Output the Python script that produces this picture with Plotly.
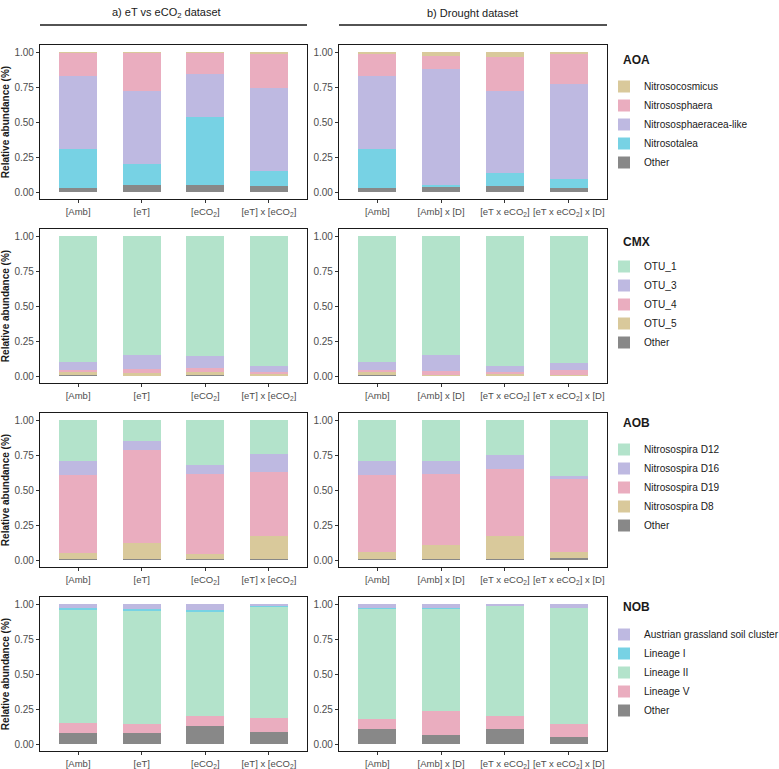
import plotly.graph_objects as go

W, H = 779, 769

# ---------------- data ----------------
cats_a = ["[Amb]", "[eT]", "[eCO<sub>2</sub>]", "[eT] x [eCO<sub>2</sub>]"]
cats_b = ["[Amb]", "[Amb] x [D]", "[eT x eCO<sub>2</sub>]", "[eT x eCO<sub>2</sub>] x [D]"]

aoa_taxa = ["Other", "Nitrosotalea", "Nitrososphaeracea-like", "Nitrososphaera", "Nitrosocosmicus"]
aoa_a = {
    "Other": [0.029, 0.048, 0.048, 0.040],
    "Nitrosotalea": [0.281, 0.152, 0.490, 0.112],
    "Nitrososphaeracea-like": [0.520, 0.524, 0.305, 0.588],
    "Nitrososphaera": [0.163, 0.269, 0.150, 0.243],
    "Nitrosocosmicus": [0.007, 0.007, 0.007, 0.017],
}
aoa_b = {
    "Other": [0.026, 0.033, 0.045, 0.031],
    "Nitrosotalea": [0.281, 0.017, 0.091, 0.062],
    "Nitrososphaeracea-like": [0.519, 0.826, 0.588, 0.676],
    "Nitrososphaera": [0.162, 0.098, 0.240, 0.219],
    "Nitrosocosmicus": [0.012, 0.026, 0.036, 0.012],
}

cmx_taxa = ["Other", "OTU_5", "OTU_4", "OTU_3", "OTU_1"]
cmx_a = {
    "Other": [0.008, 0.007, 0.006, 0.004],
    "OTU_5": [0.022, 0.012, 0.023, 0.013],
    "OTU_4": [0.015, 0.029, 0.026, 0.014],
    "OTU_3": [0.057, 0.102, 0.090, 0.043],
    "OTU_1": [0.898, 0.850, 0.855, 0.926],
}
cmx_b = {
    "Other": [0.008, 0.004, 0.004, 0.007],
    "OTU_5": [0.022, 0.004, 0.013, 0.003],
    "OTU_4": [0.015, 0.030, 0.014, 0.035],
    "OTU_3": [0.057, 0.110, 0.043, 0.048],
    "OTU_1": [0.898, 0.852, 0.926, 0.907],
}

aob_taxa = ["Other", "Nitrosospira D8", "Nitrosospira D19", "Nitrosospira D16", "Nitrosospira D12"]
aob_a = {
    "Other": [0.005, 0.008, 0.005, 0.005],
    "Nitrosospira D8": [0.045, 0.113, 0.040, 0.164],
    "Nitrosospira D19": [0.557, 0.665, 0.569, 0.462],
    "Nitrosospira D16": [0.098, 0.066, 0.067, 0.129],
    "Nitrosospira D12": [0.295, 0.148, 0.319, 0.240],
}
aob_b = {
    "Other": [0.005, 0.006, 0.004, 0.014],
    "Nitrosospira D8": [0.050, 0.104, 0.167, 0.046],
    "Nitrosospira D19": [0.552, 0.507, 0.481, 0.516],
    "Nitrosospira D16": [0.098, 0.093, 0.096, 0.022],
    "Nitrosospira D12": [0.295, 0.290, 0.252, 0.402],
}

nob_taxa = ["Other", "Lineage V", "Lineage II", "Lineage I", "Austrian grassland soil cluster"]
nob_a = {
    "Other": [0.079, 0.076, 0.126, 0.088],
    "Lineage V": [0.069, 0.065, 0.077, 0.101],
    "Lineage II": [0.814, 0.816, 0.742, 0.792],
    "Lineage I": [0.007, 0.010, 0.014, 0.007],
    "Austrian grassland soil cluster": [0.031, 0.033, 0.041, 0.012],
}
nob_b = {
    "Other": [0.107, 0.064, 0.107, 0.053],
    "Lineage V": [0.070, 0.172, 0.096, 0.090],
    "Lineage II": [0.790, 0.731, 0.783, 0.831],
    "Lineage I": [0.002, 0.001, 0.001, 0.001],
    "Austrian grassland soil cluster": [0.031, 0.032, 0.013, 0.025],
}

groups = ["AOA", "CMX", "AOB", "NOB"]
yticks = [0, 0.25, 0.5, 0.75, 1.0]

# ---------------- styles ----------------
GRAY = "#888888"
TAN = "#D9C99B"
PINK = "#EAADBF"
LAV = "#BEB9E1"
CYAN = "#77D2E4"
GREEN = "#B3E3CB"

colors = {
    "AOA": [GRAY, CYAN, LAV, PINK, TAN],
    "CMX": [GRAY, TAN, PINK, LAV, GREEN],
    "AOB": [GRAY, TAN, PINK, LAV, GREEN],
    "NOB": [GRAY, PINK, GREEN, CYAN, LAV],
}
rows = [
    ("AOA", aoa_taxa, aoa_a, aoa_b),
    ("CMX", cmx_taxa, cmx_a, cmx_b),
    ("AOB", aob_taxa, aob_a, aob_b),
    ("NOB", nob_taxa, nob_a, nob_b),
]

def px_x(p):
    return p / W

def px_y(p):
    return 1 - p / H

col_dom = [(40, 307), (339, 607)]
row_px = [(45, 199), (229, 383), (413, 567), (597, 751)]
first_item = [85, 265, 448, 633]
title_y = [60, 242, 423, 607]
header_x = [166, 472]

fig = go.Figure()
layout = dict(
    width=W, height=H, margin=dict(l=0, r=0, t=0, b=0, autoexpand=False),
    paper_bgcolor="white", plot_bgcolor="white",
    barmode="stack", bargap=0.4,
    font=dict(family="Liberation Sans, Arial, sans-serif", size=10, color="#4D4D4D"),
    annotations=[], shapes=[],
)

ytick_font = dict(family="Liberation Sans, Arial, sans-serif", size=10, color="#4D4D4D")
xtick_font = dict(family="Liberation Sans, Arial, sans-serif", size=9.5, color="#4D4D4D")

for r, (g, taxa, da, db) in enumerate(rows):
    legname = "legend" if r == 0 else f"legend{r+1}"
    for c, (data, cats) in enumerate([(da, cats_a), (db, cats_b)]):
        idx = r * 2 + c + 1
        xa = "x" if idx == 1 else f"x{idx}"
        ya = "y" if idx == 1 else f"y{idx}"
        for k, t in enumerate(taxa):
            fig.add_trace(go.Bar(
                x=cats, y=data[t], name=t,
                marker=dict(color=colors[g][k], line=dict(width=0)),
                xaxis=xa, yaxis=ya, legend=legname,
                showlegend=(c == 0),
            ))
        x0, x1 = col_dom[c]
        top, bot = row_px[r]
        layout["xaxis" if idx == 1 else f"xaxis{idx}"] = dict(
            domain=[px_x(x0), px_x(x1)], anchor=ya,
            range=[-0.6, 3.6], type="category", tickangle=0, automargin=False,
            showline=True, linecolor="#1a1a1a", linewidth=1.3, mirror=True,
            ticks="outside", ticklen=3, tickcolor="#333333", tickwidth=1,
            showgrid=False, zeroline=False, tickfont=xtick_font,
        )
        ydict = dict(
            domain=[px_y(bot), px_y(top)], anchor=xa, automargin=False,
            range=[-0.05, 1.05],
            tickvals=yticks, tickformat=".2f",
            showline=True, linecolor="#1a1a1a", linewidth=1.3, mirror=True,
            ticks="outside", ticklen=3, tickcolor="#333333", tickwidth=1,
            showgrid=False, zeroline=False, tickfont=ytick_font,
        )
        if c == 0:
            ydict["title"] = dict(text="<b>Relative abundance (%)</b>",
                                  font=dict(size=10, color="#1a1a1a"), standoff=5)
        layout["yaxis" if idx == 1 else f"yaxis{idx}"] = ydict

    layout[legname] = dict(
        x=px_x(604), xanchor="left", y=px_y(first_item[r] - 13), yanchor="top",
        traceorder="reversed", bgcolor="rgba(0,0,0,0)",
        font=dict(size=10.1, color="#1a1a1a", family="Liberation Sans, Arial, sans-serif"),
        tracegroupgap=0, itemclick=False,
    )
    layout["annotations"].append(dict(
        text=f"<b>{g}</b>", x=px_x(621), y=px_y(title_y[r]), xref="paper", yref="paper",
        xanchor="left", yanchor="middle", showarrow=False,
        font=dict(size=12, color="#1a1a1a"),
    ))

# dataset headers
headers = ["a) eT vs eCO<sub>2</sub> dataset", "b) Drought dataset"]
for c, txt in enumerate(headers):
    x0, x1 = col_dom[c]
    layout["annotations"].append(dict(
        text=txt, x=px_x(header_x[c]), y=px_y(13), xref="paper", yref="paper",
        xanchor="center", yanchor="middle", showarrow=False,
        font=dict(size=11, color="#1a1a1a"),
    ))
    layout["shapes"].append(dict(
        type="line", xref="paper", yref="paper",
        x0=px_x(x0), x1=px_x(x1), y0=px_y(25), y1=px_y(25),
        line=dict(color="#1a1a1a", width=1.5),
    ))

fig.update_layout(**layout)
fig.write_html(
    "out.html",
    config={"displayModeBar": False},
    post_script="document.body.style.margin='0';document.body.style.overflow='hidden';",
)
